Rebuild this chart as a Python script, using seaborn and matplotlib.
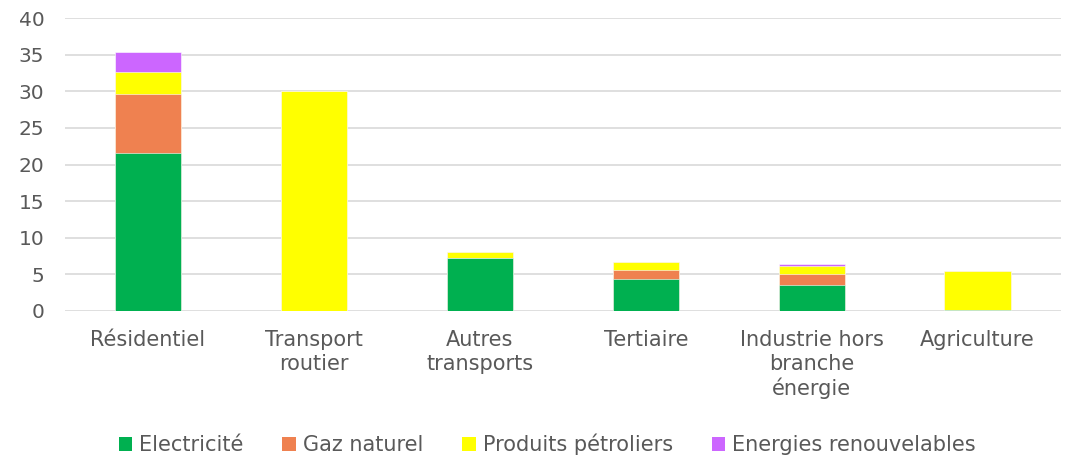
import numpy as np
import pandas as pd
import seaborn as sns
import matplotlib.pyplot as plt
from matplotlib.patches import Patch

# data
secteurs = ["Résidentiel", "Transport\nroutier", "Autres\ntransports", "Tertiaire",
            "Industrie hors\nbranche\nénergie", "Agriculture"]
electricite = [21.6, 0.0, 7.3, 4.3, 3.6, 0.1]
gaz_naturel = [8.0, 0.0, 0.0, 1.35, 1.5, 0.0]
produits_petroliers = [3.0, 30.1, 0.7, 1.05, 1.1, 5.4]
energies_renouvelables = [2.7, 0.0, 0.0, 0.0, 0.25, 0.0]

series = ["Electricité", "Gaz naturel", "Produits pétroliers", "Energies renouvelables"]
couleurs = ["#00B050", "#EF8150", "#FFFF00", "#CC66FF"]

df = pd.DataFrame({"secteur": secteurs,
                   series[0]: electricite,
                   series[1]: gaz_naturel,
                   series[2]: produits_petroliers,
                   series[3]: energies_renouvelables})

# cumulative totals for stacking
cum = df[series].cumsum(axis=1)
cum["secteur"] = df["secteur"]

sns.set_style("white")
plt.rcParams["font.family"] = ["DejaVu Sans"]

fig = plt.figure(figsize=(10.67, 4.68), dpi=100)
ax = fig.add_axes([0.061, 0.3355, 0.933, 0.626])

# draw top layer first so lower layers cover it
for s, c in reversed(list(zip(series, couleurs))):
    sns.barplot(data=cum, x="secteur", y=s, color=c, width=0.4, ax=ax,
                saturation=1, edgecolor="white", linewidth=0.4, zorder=3)

ax.set_ylim(0, 40)
ax.set_yticks(range(0, 41, 5))
ax.set_xlim(-0.5, len(secteurs) - 0.5)
ax.yaxis.grid(True, color="#D9D9D9", linewidth=1.2, zorder=0)
ax.set_axisbelow(True)
for sp in ax.spines.values():
    sp.set_visible(False)
ax.set_xlabel("")
ax.set_ylabel("")
ax.tick_params(axis="x", length=0, labelsize=15, colors="#595959", pad=14)
ax.tick_params(axis="y", length=0, labelsize=14.5, colors="#595959", pad=15)
for t in ax.get_xticklabels():
    t.set_linespacing(1.22)

handles = [Patch(facecolor=c, edgecolor="none") for c in couleurs]
fig.legend(handles, series, loc="center", bbox_to_anchor=(0.513, 0.05), ncol=4,
           frameon=False, fontsize=15, handlelength=0.65, handleheight=0.65,
           handletextpad=0.35, columnspacing=1.85, labelcolor="#595959")

fig.savefig("out.png", dpi=100)
